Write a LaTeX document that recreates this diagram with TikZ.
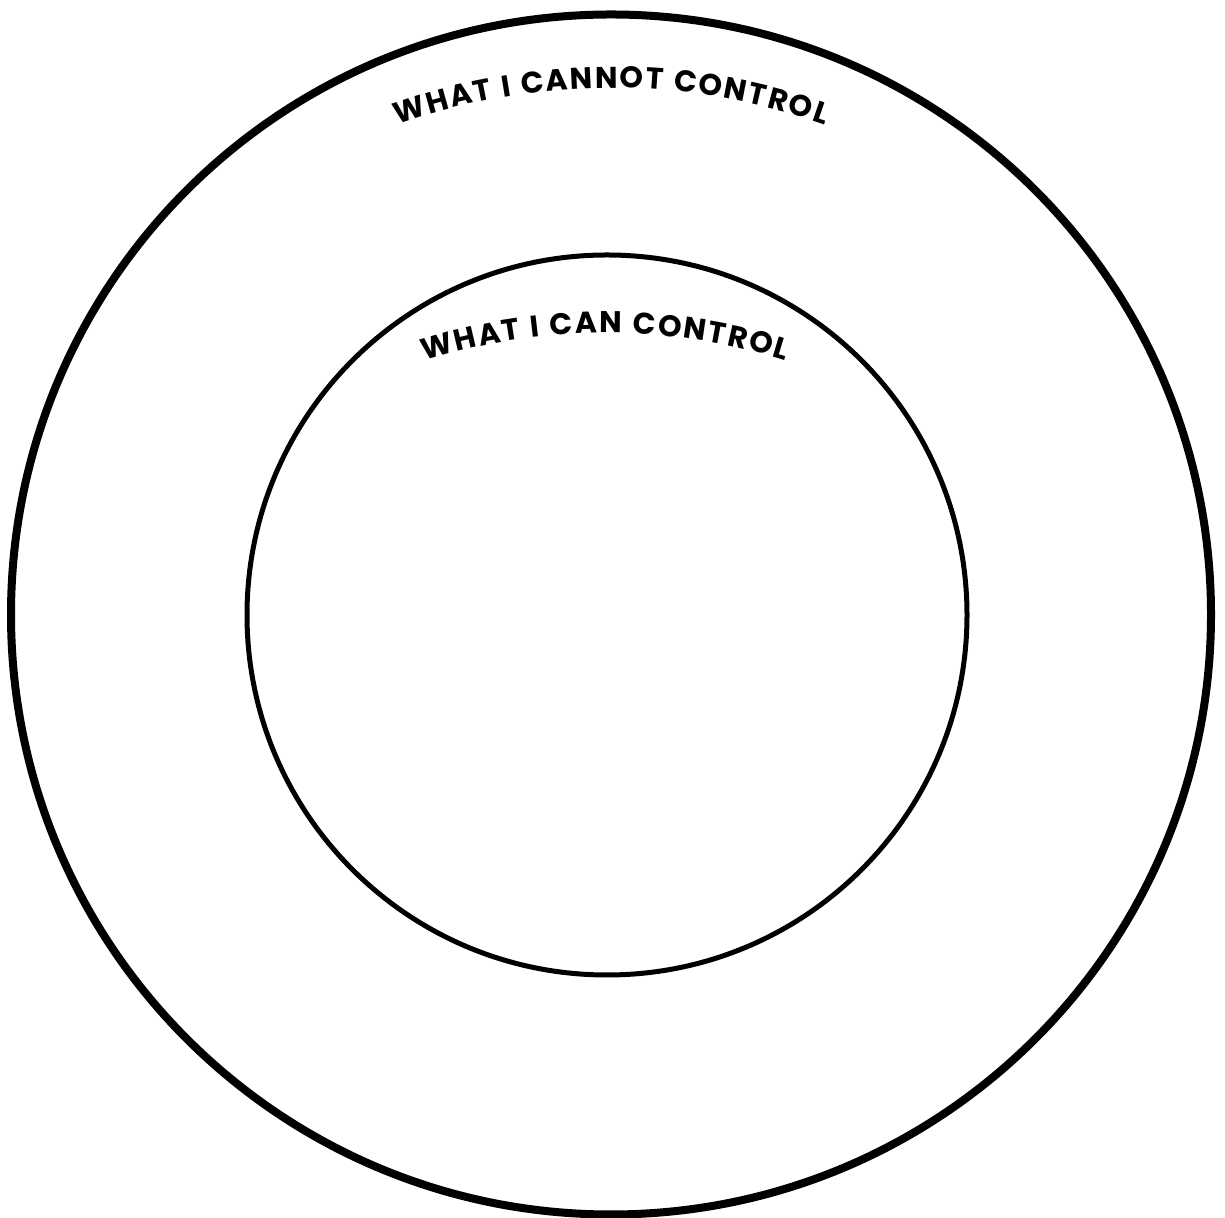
\documentclass[tikz,border=0pt]{standalone}
\usepackage{fontspec}
\setmainfont{Poppins}
\usepackage{tikz}
\usetikzlibrary{decorations.text}

\begin{document}
\begin{tikzpicture}[
    x=1pt, y=1pt,
    ring/.style={draw=black, fill=none},
    outerring/.style={ring, line width=8pt},
    innerring/.style={ring, line width=5pt},
    arclabel/.style={decorate, decoration={text along path, text align={fit to path},
        text={|\fontsize{30}{36}\selectfont\bfseries|#1}}}
]
\useasboundingbox (0,0) rectangle (1225,1217);

% Circles
\draw[outerring] (611,602.5) circle (600);
\draw[innerring] (607,602) circle (360);

% Curved labels
\path[arclabel={WHAT I CANNOT CONTROL}] (611,489) ++(109.5:640) arc (109.5:70.5:640);
\path[arclabel={WHAT I CAN CONTROL}] (605,284) ++(107.5:600) arc (107.5:72.5:600);

\end{tikzpicture}
\end{document}
